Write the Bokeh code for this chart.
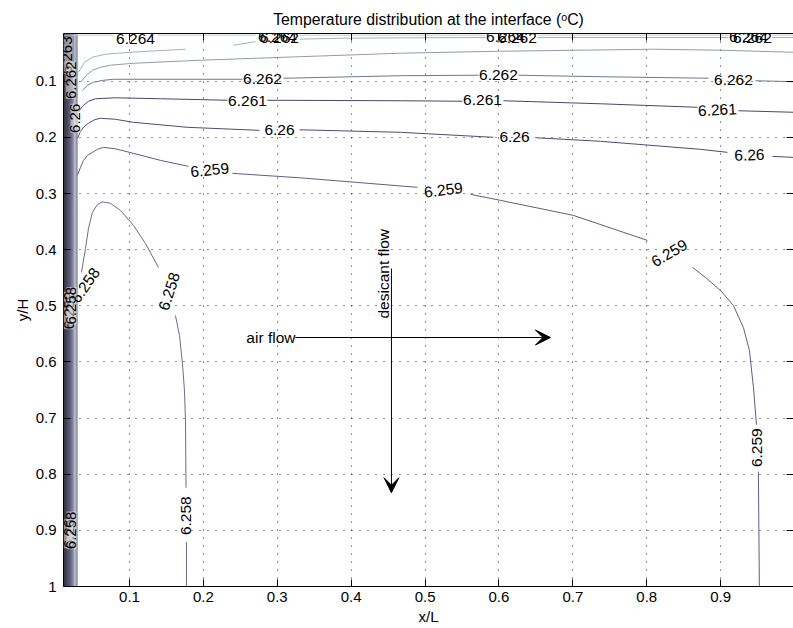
import math
from bokeh.plotting import figure
from bokeh.models import (Range1d, LinearAxis, FixedTicker, CustomJSTickFormatter,
                          ColumnDataSource, LabelSet, Label, Arrow, VeeHead, Title)
from bokeh.core.properties import value
from bokeh.embed import file_html
from bokeh.resources import INLINE

FONT = "Liberation Sans"

# ---------------- data ----------------
x_ticks = [0.1, 0.2, 0.3, 0.4, 0.5, 0.6, 0.7, 0.8, 0.9, 1.0]
y_ticks = [0.1, 0.2, 0.3, 0.4, 0.5, 0.6, 0.7, 0.8, 0.9, 1.0]

levels = [6.258, 6.259, 6.26, 6.261, 6.262, 6.263, 6.264, 6.265]

# contour paths (x/L, y/H), split where labels break the line
c6265_x = [[0.0107, 0.0783], [0.1379, 0.2705], [0.3300, 0.5817], [0.6521, 0.9106], [0.9701, 0.9986]]
c6265_y = [[0.018, 0.018], [0.018, 0.018], [0.018, 0.018], [0.018, 0.018], [0.018, 0.018]]

c6264_x = [[0.031, 0.0391, 0.0499, 0.0675, 0.1014, 0.1758],
           [0.2407, 0.2705],
           [0.3300, 0.3855, 0.4938, 0.5817],
           [0.6521, 0.9106],
           [0.9701, 0.9986]]
c6264_y = [[0.0840, 0.0662, 0.0572, 0.0519, 0.0484, 0.0430],
           [0.0358, 0.0296],
           [0.0251, 0.0234, 0.0225, 0.0221],
           [0.0221, 0.0221],
           [0.0221, 0.0221]]

c6263_x = [[0.0337, 0.0418, 0.0499, 0.0608, 0.0743, 0.1054, 0.1961, 0.3314, 0.4667, 0.6020, 0.8091, 0.8998, 0.9986]]
c6263_y = [[0.1018, 0.0893, 0.0804, 0.0751, 0.0715, 0.0680, 0.0626, 0.0563, 0.0501, 0.0466, 0.0430, 0.0448, 0.0484]]

c6262_x = [[0.0364, 0.0432, 0.0513, 0.0648, 0.0783, 0.2530],
           [0.3084, 0.4667, 0.5723],
           [0.6264, 0.7374, 0.8835],
           [0.9471, 0.9986]]
c6262_y = [[0.1161, 0.1072, 0.1018, 0.0983, 0.0965, 0.0965],
           [0.0947, 0.0902, 0.0893],
           [0.0893, 0.0920, 0.0947],
           [0.0991, 0.1009]]

c6261_x = [[0.0310, 0.0364, 0.0445, 0.0540, 0.0810, 0.1420, 0.2326],
           [0.2867, 0.4667, 0.5506],
           [0.6061, 0.7374, 0.8687],
           [0.9241, 0.9986]]
c6261_y = [[0.1553, 0.1446, 0.1357, 0.1312, 0.1295, 0.1312, 0.1339],
           [0.1339, 0.1348, 0.1357],
           [0.1348, 0.1402, 0.1464],
           [0.1526, 0.1553]]

c6260_x = [[0.0296, 0.0337, 0.0391, 0.0445, 0.0526, 0.0608, 0.0810, 0.1054, 0.1785, 0.2759],
           [0.3301, 0.4667, 0.5926],
           [0.6508, 0.7374, 0.8727, 0.9092],
           [0.9701, 0.9986]]
c6260_y = [[0.2017, 0.1892, 0.1803, 0.1749, 0.1687, 0.1660, 0.1678, 0.1732, 0.1821, 0.1875],
           [0.1865, 0.1910, 0.1999],
           [0.2008, 0.2070, 0.2213, 0.2267],
           [0.2339, 0.2357]]

c6259_x = [[0.0296, 0.0337, 0.0378, 0.0432, 0.0499, 0.0567, 0.0648, 0.0810, 0.1054, 0.1420, 0.1798],
           [0.2394, 0.3314, 0.4897],
           [0.5615, 0.6020, 0.7008, 0.8010],
           [0.8619, 0.8795, 0.8998, 0.9173, 0.9308, 0.9390, 0.9444, 0.9485],
           [0.9511, 0.9524]]
c6259_y = [[0.2677, 0.2534, 0.2410, 0.2320, 0.2267, 0.2213, 0.2178, 0.2204, 0.2285, 0.2410, 0.2516],
           [0.2641, 0.2721, 0.2890],
           [0.3015, 0.3122, 0.3390, 0.3836],
           [0.4317, 0.4495, 0.4727, 0.4995, 0.5387, 0.5797, 0.6457, 0.7117],
           [0.7955, 1.0]]

c6258_x = [[0.0350, 0.0405, 0.0445, 0.0499, 0.0567, 0.0635, 0.0743, 0.0878, 0.1054, 0.1216, 0.1392],
           [0.1622, 0.1677, 0.1717, 0.1744, 0.1758, 0.1765],
           [0.1771, 0.1771]]
c6258_y = [[0.4406, 0.3978, 0.3622, 0.3336, 0.3194, 0.3149, 0.3176, 0.3301, 0.3568, 0.3889, 0.4317],
           [0.5173, 0.5530, 0.6029, 0.6510, 0.7045, 0.8240],
           [0.9203, 1.0]]

# dense contours packed near the inlet edge (x/L)
band_x = [0.01137, 0.01272, 0.01407, 0.01543, 0.01678, 0.01813, 0.01949,
          0.02084, 0.02219, 0.02355, 0.0249, 0.02625, 0.0276, 0.02896]

# contour labels
lab_text = ["6.264", "6.264", "6.262", "6.264", "6.262", "6.264", "6.262",
            "6.262", "6.262", "6.262",
            "6.261", "6.261", "6.261",
            "6.26", "6.26", "6.26",
            "6.259", "6.259", "6.259", "6.259",
            "6.258", "6.258", "6.258"]
lab_x = [0.1081, 0.3003, 0.3030, 0.6088, 0.6250, 0.9376, 0.9430,
         0.2800, 0.5993, 0.9173,
         0.2597, 0.5777, 0.8957,
         0.3030, 0.6210, 0.9390,
         0.2085, 0.5249, 0.8307, 0.9498,
         0.1542, 0.1771, 0.0405]
lab_y = [0.0242, 0.0216, 0.0234, 0.0216, 0.0234, 0.0216, 0.0234,
         0.0965, 0.0893, 0.0983,
         0.1357, 0.1339, 0.1517,
         0.1875, 0.1999, 0.2320,
         0.2587, 0.2944, 0.4067, 0.7527,
         0.4745, 0.8739, 0.4638]
lab_angle = [0, 0, 0, 0, 0, 0, 0,
             0, 0, 0,
             0, 0, 3,
             0, 0, 2,
             6, 7, 30, 90,
             72, 90, 55]

band_lab_text = ["6.263", "6.262", "6.26", "6.259", "6.258", "6.26", "6.258"]
band_lab_x = [0.0161, 0.0202, 0.0269, 0.0175, 0.0215, 0.0175, 0.0215]
band_lab_y = [0.0537, 0.0983, 0.1660, 0.5084, 0.5000, 0.9060, 0.9000]

# ---------------- style ----------------
level_colors = {
    6.258: "#6b6b93", 6.259: "#5d5d87", 6.26: "#4c4c74", 6.261: "#47476d",
    6.262: "#6e7790", 6.263: "#8d9dab", 6.264: "#a2b2bd", 6.265: "#bccbd2",
}
band_colors = ["#16161f", "#1d1d2b", "#242436", "#2c2c42", "#34344e", "#3d3d5a",
               "#474766", "#535374", "#626282", "#737392", "#8d8da8", "#b4b8c9",
               "#9b9db5", "#80819f"]

paths = {6.258: (c6258_x, c6258_y), 6.259: (c6259_x, c6259_y), 6.26: (c6260_x, c6260_y),
         6.261: (c6261_x, c6261_y), 6.262: (c6262_x, c6262_y), 6.263: (c6263_x, c6263_y),
         6.264: (c6264_x, c6264_y), 6.265: (c6265_x, c6265_y)}

p = figure(width=793, height=628, output_backend="svg", toolbar_location=None,
           x_range=Range1d(0.0107, 0.9986), y_range=Range1d(1.0, 0.015),
           min_border_left=63, min_border_right=0, min_border_top=33, min_border_bottom=42)
p.outline_line_color = None
p.background_fill_color = "white"

fmt = CustomJSTickFormatter(code="return String(Math.round(tick*10)/10);")
blank = CustomJSTickFormatter(code="return '';")

for ax, ticks in ((p.xaxis[0], x_ticks), (p.yaxis[0], y_ticks)):
    ax.ticker = FixedTicker(ticks=ticks)
    ax.formatter = fmt
    ax.major_tick_in = 7
    ax.major_tick_out = 0
    ax.minor_tick_line_color = None
    ax.axis_line_color = "black"
    ax.major_tick_line_color = "black"
    ax.major_label_text_font = FONT
    ax.major_label_text_font_size = "15px"
    ax.major_label_text_color = "black"
    ax.axis_label_text_font = FONT
    ax.axis_label_text_font_size = "15px"
    ax.axis_label_text_font_style = "normal"
    ax.axis_label_text_color = "black"

p.xaxis.axis_label = "x/L"
p.yaxis.axis_label = "y/H"
p.xaxis.major_label_standoff = 5
p.xaxis.axis_label_standoff = 3
p.yaxis.major_label_standoff = 7
p.yaxis.axis_label_standoff = 2

top = LinearAxis(ticker=FixedTicker(ticks=x_ticks), formatter=blank, major_tick_in=7,
                 major_tick_out=0, minor_tick_line_color=None, axis_line_color="black",
                 major_label_standoff=0)
p.add_layout(top, "above")
right = LinearAxis(ticker=FixedTicker(ticks=y_ticks), formatter=blank, major_tick_in=7,
                   major_tick_out=0, minor_tick_line_color=None, axis_line_color=None,
                   major_label_standoff=0)
p.add_layout(right, "right")

p.add_layout(Title(text="Temperature distribution at the interface (\u1d52C)",
                   align="center", text_font=FONT, text_font_size="15.8px",
                   text_font_style="normal", text_color="black", standoff=12), "above")

for g in (p.xgrid[0], p.ygrid[0]):
    g.grid_line_color = "#222222"
    g.grid_line_dash = "1 7"
    g.grid_line_width = 1
p.xgrid[0].ticker = FixedTicker(ticks=x_ticks[:-1])
p.ygrid[0].ticker = FixedTicker(ticks=y_ticks[:-1])

# band of dense contours
p.multi_line(xs=[[bx, bx] for bx in band_x], ys=[[0.015, 1.0] for _ in band_x],
             line_color=band_colors, line_width=1.3)

# contour lines
xs, ys, cols = [], [], []
for lev in levels:
    cx, cy = paths[lev]
    for sx, sy in zip(cx, cy):
        xs.append(sx)
        ys.append(sy)
        cols.append(level_colors[lev])
p.multi_line(xs="xs", ys="ys", line_color="color", line_width=1,
             source=ColumnDataSource(dict(xs=xs, ys=ys, color=cols)))

# labels
lsrc = ColumnDataSource(dict(x=lab_x, y=lab_y, text=lab_text,
                             angle=[math.radians(a) for a in lab_angle]))
p.add_layout(LabelSet(x="x", y="y", text="text", angle="angle", source=lsrc,
                      text_align="center", text_baseline="middle",
                      text_font=value(FONT), text_font_size=value("15.5px"),
                      text_color="black"))
bsrc = ColumnDataSource(dict(x=band_lab_x, y=band_lab_y, text=band_lab_text))
p.add_layout(LabelSet(x="x", y="y", text="text", angle=math.pi / 2, source=bsrc,
                      text_align="center", text_baseline="middle",
                      text_font=value(FONT), text_font_size=value("15px"),
                      text_color="black", background_fill_color="white",
                      background_fill_alpha=0.45))

# flow arrows
p.add_layout(Arrow(x_start=0.3246, y_start=0.5565, x_end=0.6697, y_end=0.5565,
                   line_color="black", line_width=1,
                   end=VeeHead(size=15, fill_color="black", line_color="black")))
p.add_layout(Arrow(x_start=0.4545, y_start=0.4335, x_end=0.4545, y_end=0.8329,
                   line_color="black", line_width=1,
                   end=VeeHead(size=15, fill_color="black", line_color="black")))
p.add_layout(Label(x=0.3246, y=0.5565, text="air flow", text_align="right",
                   text_baseline="middle", text_font=FONT, text_font_size="15.5px",
                   text_color="black"))
p.add_layout(Label(x=0.4437, y=0.5227, text="desicant flow", angle=math.pi / 2,
                   text_align="left", text_baseline="middle", text_font=FONT,
                   text_font_size="15.5px", text_color="black"))

open("out.html", "w").write(file_html(p, INLINE))
